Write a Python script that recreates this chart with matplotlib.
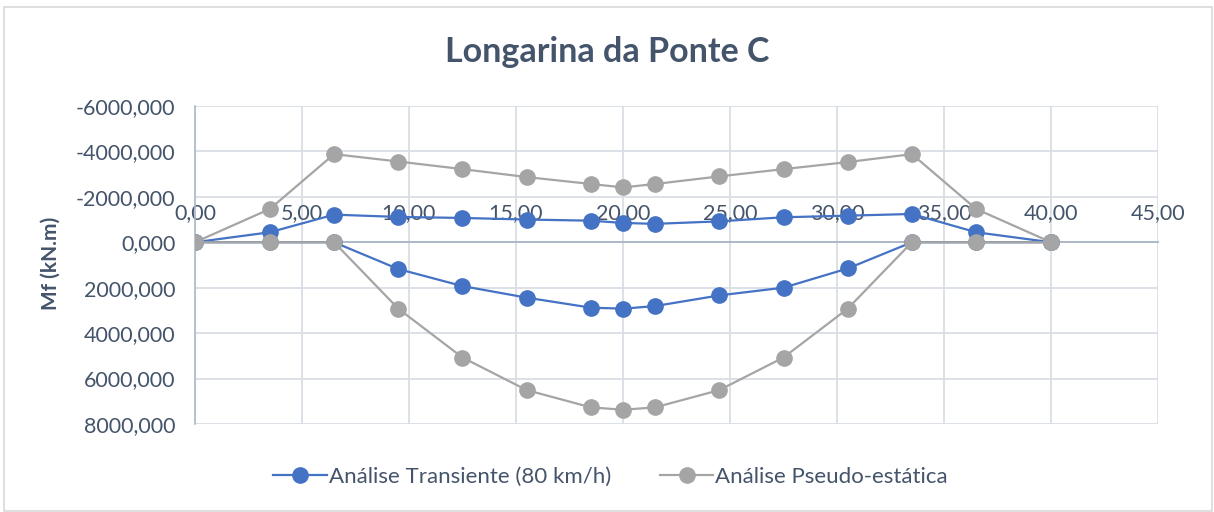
import numpy as np
import matplotlib.pyplot as plt
from matplotlib.patches import Rectangle

# station along the girder (m)
x_pos = [0.0, 3.5, 6.5, 9.5, 12.5, 15.5, 18.5, 20.0, 21.5, 24.5, 27.5, 30.5, 33.5, 36.5, 40.0]

# bending moment envelopes (kN.m): negative (hogging) and positive (sagging)
transient_min = [0, -440, -1215, -1115, -1070, -1000, -950, -850, -810, -920, -1100, -1170, -1245, -440, 0]
transient_max = [0, 0, 0, 1180, 1930, 2440, 2880, 2925, 2810, 2340, 2000, 1155, 0, 0, 0]
pseudo_min = [0, -1465, -3880, -3555, -3220, -2870, -2565, -2415, -2565, -2900, -3220, -3530, -3880, -1465, 0]
pseudo_max = [0, 0, 0, 2925, 5075, 6510, 7270, 7375, 7270, 6510, 5075, 2925, 0, 0, 0]

x_ticks = [0, 5, 10, 15, 20, 25, 30, 35, 40, 45]
y_ticks = [-6000, -4000, -2000, 0, 2000, 4000, 6000, 8000]

txt = "#44546A"
blue = "#4472C4"
gray = "#A5A5A5"
plt.rcParams['font.family'] = ['Lato', 'DejaVu Sans']

fig = plt.figure(figsize=(12.14, 5.12), dpi=100)
ax = fig.add_axes([0.1606, 0.172, 0.7933, 0.621])

# chart border
fig.patches.append(Rectangle((0.003, 0.001), 0.995, 0.986, transform=fig.transFigure,
                             fill=False, edgecolor="#D9D9D9", linewidth=1.2))

kw = dict(marker="o", markersize=11, linewidth=1.6, zorder=3)
ax.plot(x_pos, transient_min, color=blue, label="Análise Transiente (80 km/h)", **kw)
ax.plot(x_pos, transient_max, color=blue, **kw)
ax.plot(x_pos, pseudo_min, color=gray, label="Análise Pseudo-estática", **kw)
ax.plot(x_pos, pseudo_max, color=gray, **kw)

ax.set_xlim(0, 45)
ax.set_ylim(8000, -6000)
ax.set_xticks(x_ticks)
ax.set_yticks(y_ticks)
ax.set_xticklabels([f"{v:.2f}".replace(".", ",") for v in x_ticks])
ax.set_yticklabels([f"{v:.3f}".replace(".", ",") for v in y_ticks])

ax.grid(True, color="#D9DEE6", linewidth=1.3, zorder=0)
ax.set_axisbelow(True)

for s in ["right", "bottom"]:
    ax.spines[s].set_visible(False)
ax.spines["left"].set_color("#ADB9CA")
ax.spines["left"].set_linewidth(1.2)
# horizontal axis crosses at zero, labels sit above it
ax.spines["top"].set_position(("data", 0))
ax.spines["top"].set_color("#ADB9CA")
ax.spines["top"].set_linewidth(1.4)
ax.spines["top"].set_zorder(2)
ax.xaxis.tick_top()
ax.tick_params(axis="x", length=0, pad=14, labelsize=15.5, labelcolor=txt)
ax.tick_params(axis="y", length=0, pad=14, labelsize=15.5, labelcolor=txt)

ax.set_ylabel("Mf (kN.m)", fontsize=15, fontweight="bold", color=txt)
ax.yaxis.set_label_coords(-0.139, 0.506)
fig.text(0.5, 0.898, "Longarina da Ponte C", ha="center", va="center",
         fontsize=24.5, fontweight="bold", color=txt)

fig.legend(*ax.get_legend_handles_labels(), loc="center", bbox_to_anchor=(0.503, 0.068),
           ncol=2, frameon=False, fontsize=16, labelcolor=txt, handlelength=2.4,
           handletextpad=0.1, columnspacing=2.2)

fig.savefig("out.png", dpi=100)
